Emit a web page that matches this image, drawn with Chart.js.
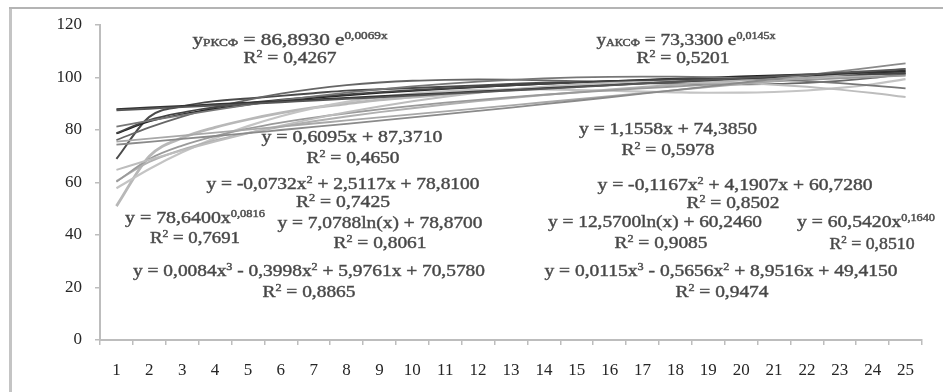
<!DOCTYPE html>
<html><head><meta charset="utf-8">
<script src="https://cdn.jsdelivr.net/npm/chart.js@4.4.0/dist/chart.umd.min.js"></script>
<style>html,body{margin:0;padding:0;background:#fff;overflow:hidden}canvas{display:block}</style>
</head><body>
<canvas id="c" width="943" height="392"></canvas>
<script>
// ---- data ----
const categories = ['1','2','3','4','5','6','7','8','9','10','11','12','13','14','15','16','17','18','19','20','21','22','23','24','25'];
const yTicks = [0,20,40,60,80,100,120];

const expRKSF  = [87.49,88.10,88.71,89.33,89.94,90.57,91.19,91.82,92.46,93.10,93.74,94.39,95.05,95.70,96.37,97.03,97.71,98.38,99.06,99.75,100.44,101.13,101.84,102.54,103.25];
const expAKSF  = [74.40,75.49,76.59,77.71,78.84,80.00,81.16,82.35,83.55,84.77,86.01,87.27,88.54,89.83,91.15,92.48,93.83,95.20,96.59,98.00,99.43,100.88,102.36,103.85,105.37];
const linRKSF  = [87.98,88.59,89.20,89.81,90.42,91.03,91.64,92.25,92.86,93.47,94.08,94.69,95.30,95.90,96.51,97.12,97.73,98.34,98.95,99.56,100.17,100.78,101.39,102.00,102.61];
const linAKSF  = [75.54,76.70,77.85,79.01,80.16,81.32,82.48,83.63,84.79,85.94,87.10,88.25,89.41,90.57,91.72,92.88,94.03,95.19,96.35,97.50,98.66,99.81,100.97,102.12,103.28];
const quadRKSF = [81.25,83.54,85.69,87.69,89.54,91.25,92.81,94.22,95.49,96.61,97.58,98.41,99.09,99.63,100.02,100.26,100.35,100.30,100.11,99.76,99.27,98.64,97.86,96.93,95.85];
const quadAKSF = [64.80,68.64,72.25,75.62,78.76,81.67,84.34,86.79,88.99,90.97,92.71,94.21,95.49,96.52,97.33,97.90,98.24,98.35,98.22,97.86,97.27,96.44,95.38,94.09,92.56];
const lnRKSF   = [78.87,83.78,86.65,88.68,90.26,91.55,92.64,93.59,94.42,95.17,95.84,96.46,97.03,97.55,98.04,98.50,98.93,99.33,99.71,100.08,100.42,100.75,101.07,101.37,101.66];
const lnAKSF   = [60.25,68.96,74.06,77.67,80.48,82.77,84.71,86.38,87.87,89.19,90.39,91.48,92.49,93.42,94.29,95.10,95.86,96.58,97.26,97.90,98.52,99.10,99.66,100.19,100.71];
const powRKSF  = [78.64,83.22,86.02,88.06,89.68,91.02,92.17,93.18,94.08,94.90,95.64,96.32,96.95,97.54,98.09,98.61,99.09,99.56,100.00,100.42,100.82,101.20,101.57,101.92,102.26];
const powAKSF  = [60.54,67.83,72.49,76.00,78.83,81.22,83.30,85.15,86.81,88.32,89.71,91.00,92.20,93.33,94.39,95.40,96.35,97.26,98.12,98.95,99.75,100.51,101.25,101.96,102.64];
const cubRKSF  = [76.16,81.00,85.13,88.62,91.51,93.86,95.70,97.10,98.10,98.76,99.12,99.24,99.16,98.93,98.61,98.25,97.90,97.60,97.41,97.38,97.56,97.99,98.74,99.84,101.36];
const cubAKSF  = [57.81,65.15,71.49,76.91,81.47,85.25,88.31,90.72,92.55,93.87,94.75,95.26,95.47,95.44,95.24,94.95,94.63,94.36,94.19,94.21,94.47,95.05,96.02,97.44,99.40];
const steepDark  = [69.0,85.0,89.0,91.0,92.0,93.0,94.0,95.0,95.5,96.0,96.5,97.0,97.5,98.0,98.3,98.6,99.0,99.3,99.6,100.0,100.3,100.6,101.0,101.3,101.6];
const steepLight = [51.0,70.0,77.0,81.0,84.0,86.5,88.5,90.0,91.5,92.5,93.5,94.5,95.3,96.0,96.7,97.3,97.8,98.3,98.8,99.2,99.6,100.0,100.3,100.6,101.0];

const seriesList = [expRKSF, expAKSF, linRKSF, linAKSF, quadRKSF, quadAKSF, lnRKSF, lnAKSF, powRKSF, powAKSF, cubRKSF, cubAKSF, steepDark, steepLight];

// annotation texts: segments [text, mode] mode 0 normal, 1 superscript, 2 subscript
const equationTexts = [
  [['y',0],['РКСФ',2],[' = 86,8930 e',0],['0,0069x',1]],
  [['R',0],['2',1],[' = 0,4267',0]],
  [['y',0],['АКСФ',2],[' = 73,3300 e',0],['0,0145x',1]],
  [['R',0],['2',1],[' = 0,5201',0]],
  [['y = 0,6095x + 87,3710',0]],
  [['R',0],['2',1],[' = 0,4650',0]],
  [['y = -0,0732x',0],['2',1],[' + 2,5117x + 78,8100',0]],
  [['R',0],['2',1],[' = 0,7425',0]],
  [['y = 78,6400x',0],['0,0816',1]],
  [['R',0],['2',1],[' = 0,7691',0]],
  [['y = 7,0788ln(x) + 78,8700',0]],
  [['R',0],['2',1],[' = 0,8061',0]],
  [['y = 0,0084x',0],['3',1],[' - 0,3998x',0],['2',1],[' + 5,9761x + 70,5780',0]],
  [['R',0],['2',1],[' = 0,8865',0]],
  [['y = 1,1558x + 74,3850',0]],
  [['R',0],['2',1],[' = 0,5978',0]],
  [['y = -0,1167x',0],['2',1],[' + 4,1907x + 60,7280',0]],
  [['R',0],['2',1],[' = 0,8502',0]],
  [['y = 12,5700ln(x) + 60,2460',0]],
  [['R',0],['2',1],[' = 0,9085',0]],
  [['y = 60,5420x',0],['0,1640',1]],
  [['R',0],['2',1],[' = 0,8510',0]],
  [['y = 0,0115x',0],['3',1],[' - 0,5656x',0],['2',1],[' + 8,9516x + 49,4150',0]],
  [['R',0],['2',1],[' = 0,9474',0]]
];

// ---- styling / layout (not data) ----
const lineColors = ['#555','#8a8a8a','#333','#a8a8a8','#777','#bdbdbd','#444','#9a9a9a','#222','#b0b0b0','#666','#c4c4c4','#4a4a4a','#b8b8b8'];
const lineWidths = [1.8,1.8,1.8,1.8,1.8,2,1.8,1.8,1.6,2,1.8,2.2,2,2.8];
// [centerX, middleY, targetWidth]
const annLayout = [
  [290,40,195],[290,58,93],
  [686,40,179],[683,58,93],
  [352,137,181],[353,158,93],
  [343,184,273],[343,202,94],
  [195,218,140],[195,238,90],
  [380,223,205],[380,243,93],
  [309,271,352],[309,292,93],
  [668,129,178],[668,150,93],
  [735,185,275],[733,203,93],
  [655,222,214],[661,243,93],
  [866,222,138],[872,244,85],
  [721,271,353],[722,292,93]
];

const framePlugin = {
  id:'frame',
  beforeDraw(chart){
    const ctx = chart.ctx;
    ctx.save();
    ctx.fillStyle = '#fff';
    ctx.fillRect(0,0,chart.width,chart.height);
    ctx.strokeStyle = '#c4c4c4';
    ctx.lineWidth = 3;
    ctx.beginPath(); ctx.moveTo(10.5,8); ctx.lineTo(10.5,392); ctx.stroke();
    ctx.strokeStyle = '#b4b4b4';
    ctx.lineWidth = 2;
    ctx.beginPath(); ctx.moveTo(9,8); ctx.lineTo(943,8); ctx.stroke();
    ctx.restore();
  }
};

const annPlugin = {
  id:'ann',
  afterDraw(chart){
    const ctx = chart.ctx;
    const fam = '"Liberation Serif", "Times New Roman", serif';
    equationTexts.forEach((segs, i) => {
      const [cx, cy, tw] = annLayout[i];
      ctx.save();
      let w = 0;
      segs.forEach(([t, m]) => {
        ctx.font = (m ? '10px ' : '16px ') + fam;
        w += ctx.measureText(t).width;
      });
      const s = tw / w;
      ctx.translate(cx - tw/2, cy + 5);
      ctx.scale(s, 1);
      ctx.fillStyle = '#444';
      ctx.strokeStyle = '#555';
      ctx.lineWidth = 0.45;
      ctx.textBaseline = 'alphabetic';
      let x = 0;
      segs.forEach(([t, m]) => {
        ctx.font = (m ? '10px ' : '16px ') + fam;
        const dy = m === 1 ? -6 : (m === 2 ? 1 : 0);
        ctx.fillText(t, x, dy);
        ctx.strokeText(t, x, dy);
        x += ctx.measureText(t).width;
      });
      ctx.restore();
    });
  }
};

const datasets = seriesList.map((arr, i) => ({
  data: arr,
  borderColor: lineColors[i],
  borderWidth: lineWidths[i],
  pointRadius: 0,
  fill: false,
  tension: 0.4,
  cubicInterpolationMode: 'monotone'
}));

new Chart(document.getElementById('c'), {
  type: 'line',
  data: { labels: categories, datasets },
  options: {
    responsive: false,
    animation: false,
    devicePixelRatio: 1,
    layout: { padding: { top: 25, right: 21, left: 0, bottom: 0 } },
    plugins: { legend: { display: false }, tooltip: { enabled: false } },
    scales: {
      x: {
        offset: true,
        grid: { display: true, drawOnChartArea: false, drawTicks: true, tickLength: 5, offset: true, color: '#bdbdbd', lineWidth: 1.5 },
        border: { display: true, color: '#bdbdbd', width: 2 },
        ticks: { color: '#262626', font: { family: '"Liberation Serif", serif', size: 17 }, padding: 15, maxRotation: 0, autoSkip: false },
        afterFit(scale){ scale.height = 52; }
      },
      y: {
        min: 0, max: 120,
        afterBuildTicks(scale){ scale.ticks = yTicks.map(v => ({ value: v })); },
        grid: { display: true, drawOnChartArea: false, drawTicks: true, tickLength: 5, color: '#bdbdbd', lineWidth: 1.5 },
        border: { display: true, color: '#bdbdbd', width: 2 },
        ticks: { color: '#262626', font: { family: '"Liberation Serif", serif', size: 17 }, padding: 13 },
        afterFit(scale){ scale.width = 100; }
      }
    }
  },
  plugins: [framePlugin, annPlugin]
});
</script>
</body></html>
